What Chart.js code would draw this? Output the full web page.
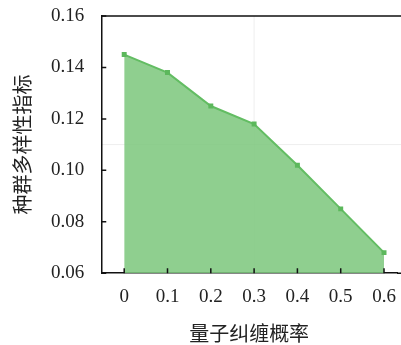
<!DOCTYPE html>
<html>
<head>
<meta charset="utf-8">
<script src="https://cdn.jsdelivr.net/npm/chart.js@4"></script>
<style>
  html, body { margin: 0; padding: 0; background: #fff; }
  #wrap { width: 401px; height: 345px; }
</style>
</head>
<body>
<div id="wrap"><canvas id="chart" width="401" height="345"></canvas></div>
<script>
// Data
const entangleProb = [0, 0.1, 0.2, 0.3, 0.4, 0.5, 0.6];
const diversityIndex = [0.145, 0.138, 0.125, 0.118, 0.102, 0.085, 0.068];
const xTicks = [0, 0.1, 0.2, 0.3, 0.4, 0.5, 0.6];
const yTicks = [0.06, 0.08, 0.10, 0.12, 0.14, 0.16];
// the two faint guide lines visible behind the area
const guideX = 0.3;
const guideY = 0.11;

const serif = '"Liberation Serif", "DejaVu Serif", serif';
const cjk = '"Noto Sans CJK SC", sans-serif';

// faint guides under the fill
const guides = {
    id: 'guides',
    beforeDatasetsDraw(chart) {
        const ctx = chart.ctx;
        const area = chart.chartArea;
        const px = chart.scales.x.getPixelForValue(guideX);
        const py = chart.scales.y.getPixelForValue(guideY);
        ctx.save();
        ctx.strokeStyle = 'rgba(0, 0, 0, 0.07)';
        ctx.lineWidth = 1;
        ctx.beginPath();
        ctx.moveTo(px, area.top);
        ctx.lineTo(px, area.bottom);
        ctx.moveTo(area.left, py);
        ctx.lineTo(chart.width, py);
        ctx.stroke();
        ctx.restore();
    }
};

// inward ticks + top frame line
const frameTicks = {
    id: 'frameTicks',
    afterDraw(chart) {
        const ctx = chart.ctx;
        const area = chart.chartArea;
        const xs = chart.scales.x;
        const ys = chart.scales.y;
        ctx.save();
        ctx.strokeStyle = '#111';
        ctx.lineWidth = 1.5;
        ctx.beginPath();
        ctx.moveTo(area.left, area.top);
        ctx.lineTo(chart.width, area.top);
        ctx.moveTo(area.right, area.bottom);
        ctx.lineTo(chart.width, area.bottom);
        ctx.stroke();
        ctx.beginPath();
        xTicks.forEach(v => {
            const px = xs.getPixelForValue(v);
            ctx.moveTo(px, area.bottom);
            ctx.lineTo(px, area.bottom - 5);
        });
        yTicks.forEach(v => {
            const py = ys.getPixelForValue(v);
            ctx.moveTo(area.left, py);
            ctx.lineTo(area.left + 5, py);
        });
        ctx.stroke();
        ctx.restore();
    }
};

new Chart(document.getElementById('chart'), {
    type: 'line',
    data: {
        datasets: [{
            data: entangleProb.map((x, i) => ({ x: x, y: diversityIndex[i] })),
            borderColor: '#63bd63',
            backgroundColor: 'rgba(128, 200, 128, 0.88)',
            borderWidth: 2,
            fill: 'start',
            tension: 0,
            pointStyle: 'rect',
            pointRadius: 3.5,
            pointBackgroundColor: '#5cb85c',
            pointBorderWidth: 0
        }]
    },
    options: {
        responsive: false,
        animation: false,
        layout: { padding: { top: 16, right: 0, left: 10, bottom: 0 } },
        plugins: { legend: { display: false }, tooltip: { enabled: false } },
        scales: {
            x: {
                type: 'linear',
                min: -0.053,
                max: 0.630,
                afterBuildTicks: axis => { axis.ticks = xTicks.map(v => ({ value: v })); },
                afterFit: axis => { axis.paddingLeft = 0; axis.paddingRight = 0; },
                grid: { display: false, drawTicks: false },
                border: { color: '#111', width: 1.5 },
                ticks: {
                    padding: 12.5,
                    color: '#222',
                    font: { family: serif, size: 19 },
                    callback: v => (v === 0 ? '0' : v.toFixed(1))
                },
                title: {
                    display: true,
                    text: '量子纠缠概率',
                    color: '#222',
                    font: { family: cjk, size: 20 },
                    padding: 0
                }
            },
            y: {
                min: 0.06,
                max: 0.16,
                afterBuildTicks: axis => { axis.ticks = yTicks.map(v => ({ value: v })); },
                afterFit: axis => { axis.paddingTop = 0; axis.paddingBottom = 0; },
                grid: { display: false, drawTicks: false },
                border: { color: '#111', width: 1.5 },
                ticks: {
                    padding: 17,
                    color: '#222',
                    font: { family: serif, size: 19 },
                    callback: v => v.toFixed(2)
                },
                title: {
                    display: true,
                    text: '种群多样性指标',
                    color: '#222',
                    font: { family: cjk, size: 20 },
                    padding: 0
                }
            }
        }
    },
    plugins: [guides, frameTicks]
});
</script>
</body>
</html>
